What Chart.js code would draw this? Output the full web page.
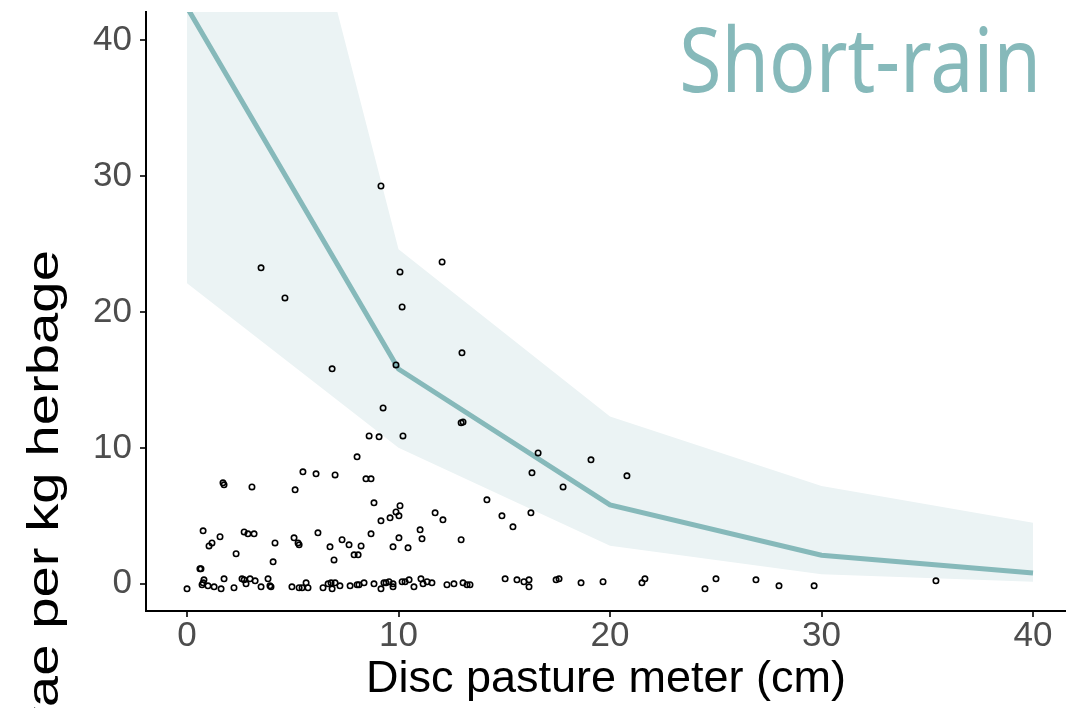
<!DOCTYPE html>
<html>
<head>
<meta charset="utf-8">
<script src="https://cdn.jsdelivr.net/npm/chart.js@4/dist/chart.umd.min.js"></script>
<style>
  html, body { margin: 0; padding: 0; background: #fff; }
  #wrap { width: 1066px; height: 708px; position: relative; }
</style>
</head>
<body>
<div id="wrap"><canvas id="larvaeChart"></canvas></div>
<script>
// fitted curve + confidence band, at the grass heights of the model
const fitHeights = [0, 10, 20, 30, 40];
const fitMean = [42.4, 15.8, 5.8, 2.1, 0.8];
const fitUpper = [85, 24.6, 12.3, 7.2, 4.5];
const fitLower = [22.1, 10.0, 2.8, 0.7, 0.15];

// observed samples: disc height (cm) and larvae per kg
const obsHeight = [
  9.17, 3.50, 4.63, 12.06, 10.07, 10.17, 6.86, 9.88, 13.00, 9.27,
  12.96, 13.05, 10.21, 16.60, 19.10, 16.31, 17.78, 20.80, 14.18, 11.73,
  12.10, 14.89, 15.41, 16.26, 12.96, 11.02, 11.11, 8.61, 9.08, 8.04,
  5.48, 6.10, 7.00, 8.46, 8.70, 1.70, 1.75, 3.07, 5.11, 8.84,
  10.07, 9.88, 10.02, 9.17, 9.60, 0.76, 2.70, 2.88, 3.17, 6.19,
  8.70, 1.56, 5.06, 5.25, 5.30, 7.33, 7.66, 1.18, 1.04, 4.16,
  10.02, 6.76, 8.23, 9.74, 10.45, 2.32, 7.90, 8.09, 4.07, 6.95,
  0.61, 0.66, 0.00, 0.71, 0.80, 0.76, 0.99, 1.28, 1.61, 1.75,
  2.22, 2.60, 2.70, 2.79, 2.98, 3.22, 3.50, 3.83, 3.92, 3.97,
  4.96, 5.30, 5.44, 5.63, 5.72, 6.43, 6.67, 6.81, 6.86, 7.00,
  7.23, 7.71, 8.04, 8.13, 8.37, 8.84, 9.17, 9.31, 9.41, 9.55,
  9.74, 9.74, 10.17, 10.31, 10.50, 10.73, 11.06, 11.16, 11.35, 11.58,
  12.29, 12.62, 13.05, 13.24, 13.38, 15.04, 15.60, 15.93, 16.17, 16.17,
  17.45, 17.59, 18.63, 19.67, 21.51, 21.65, 24.49, 25.01, 26.90, 27.99,
  29.65, 35.41
];
const obsLarvae = [
  29.26, 23.24, 21.03, 23.68, 22.94, 20.37, 15.81, 16.10, 16.99, 12.94,
  11.84, 11.91, 10.88, 9.63, 9.12, 8.16, 7.13, 7.94, 6.18, 5.22,
  4.71, 5.00, 4.19, 5.22, 3.24, 3.97, 3.31, 10.88, 10.81, 9.34,
  8.24, 8.09, 8.01, 7.72, 7.72, 7.43, 7.28, 7.13, 6.91, 5.96,
  5.74, 5.29, 5.00, 4.63, 4.85, 3.90, 3.82, 3.68, 3.68, 3.75,
  3.68, 3.46, 3.38, 3.01, 2.87, 3.24, 2.87, 3.01, 2.79, 3.01,
  3.38, 2.72, 2.79, 2.72, 2.65, 2.21, 2.13, 2.13, 1.62, 1.76,
  1.10, 1.10, -0.37, -0.07, 0.29, 0.07, -0.15, -0.22, -0.37, 0.37,
  -0.29, 0.37, 0.29, 0.00, 0.37, 0.22, -0.22, 0.37, -0.15, -0.22,
  -0.22, -0.29, -0.29, 0.07, -0.29, -0.29, 0.00, 0.07, -0.37, 0.07,
  -0.15, -0.15, -0.07, -0.07, 0.07, 0.00, -0.37, 0.07, 0.07, 0.15,
  0.00, -0.22, 0.15, 0.15, 0.29, -0.22, 0.37, 0.00, 0.15, 0.07,
  -0.07, 0.00, 0.07, -0.07, -0.07, 0.37, 0.29, 0.15, 0.29, -0.22,
  0.29, 0.37, 0.07, 0.15, 0.07, 0.37, -0.37, 0.37, 0.29, -0.15,
  -0.15, 0.22
];

const xTicks = [0, 10, 20, 30, 40];
const yTicks = [0, 10, 20, 30, 40];

const teal = '#86b9ba';
const bandFill = '#ebf3f4';

const toXY = (xs, ys) => xs.map((x, i) => ({ x: x, y: ys[i] }));

// season name in the top right corner, slightly tall glyphs
const seasonLabel = {
  id: 'seasonLabel',
  afterDraw(chart) {
    const ctx = chart.ctx;
    ctx.save();
    ctx.fillStyle = teal;
    ctx.font = '400 77px "Noto Sans"';
    ctx.textAlign = 'right';
    ctx.textBaseline = 'alphabetic';
    ctx.translate(1041, 92);
    ctx.scale(1, 1.16);
    ctx.fillText('Short-rain', 0, 0);
    ctx.restore();
  }
};

// rotated y-axis title, runs off the bottom edge
const yTitle = {
  id: 'yTitle',
  afterDraw(chart) {
    const ctx = chart.ctx;
    ctx.save();
    ctx.fillStyle = '#000';
    ctx.font = '44px "Liberation Sans", Arial, sans-serif';
    ctx.textAlign = 'right';
    ctx.textBaseline = 'alphabetic';
    ctx.translate(58, 250);
    ctx.rotate(-Math.PI / 2);
    ctx.scale(1.28, 1);
    ctx.fillText('Larvae per kg herbage', 0, 0);
    ctx.restore();
  }
};

new Chart(document.getElementById('larvaeChart'), {
  type: 'scatter',
  data: {
    datasets: [
      {
        label: 'observed',
        data: toXY(obsHeight, obsLarvae),
        pointRadius: 2.7,
        pointBorderWidth: 1.6,
        pointBorderColor: '#000',
        pointBackgroundColor: 'rgba(0,0,0,0)',
        order: 0
      },
      {
        label: 'fit',
        type: 'line',
        data: toXY(fitHeights, fitMean),
        borderColor: teal,
        borderWidth: 5,
        pointRadius: 0,
        tension: 0,
        fill: false,
        order: 1
      },
      {
        label: 'upper',
        type: 'line',
        data: toXY(fitHeights, fitUpper),
        borderWidth: 0,
        borderColor: 'rgba(0,0,0,0)',
        backgroundColor: bandFill,
        pointRadius: 0,
        tension: 0,
        fill: '+1',
        order: 2
      },
      {
        label: 'lower',
        type: 'line',
        data: toXY(fitHeights, fitLower),
        borderWidth: 0,
        borderColor: 'rgba(0,0,0,0)',
        pointRadius: 0,
        tension: 0,
        fill: false,
        order: 3
      }
    ]
  },
  options: {
    responsive: true,
    maintainAspectRatio: false,
    animation: false,
    layout: { autoPadding: false, padding: { top: 12, right: 0, left: 0, bottom: 0 } },
    plugins: {
      legend: { display: false },
      tooltip: { enabled: false }
    },
    scales: {
      x: {
        type: 'linear',
        min: -1.94,
        max: 41.56,
        afterBuildTicks: s => { s.ticks = xTicks.map(v => ({ value: v })); },
        afterFit: s => { s.height = 97; s.paddingLeft = 0; s.paddingRight = 0; },
        border: { display: true, color: '#000', width: 2 },
        grid: { drawOnChartArea: false, tickLength: 6, color: '#333', lineWidth: 2 },
        ticks: {
          color: '#4d4d4d',
          font: { family: '"Liberation Sans", Arial, sans-serif', size: 35 },
          padding: -2,
          maxRotation: 0
        },
        title: {
          display: true,
          text: 'Disc pasture meter (cm)',
          color: '#000',
          font: { family: '"Liberation Sans", Arial, sans-serif', size: 45 },
          padding: { top: 0, bottom: 1 }
        }
      },
      y: {
        type: 'linear',
        min: -2.0,
        max: 42.06,
        afterBuildTicks: s => { s.ticks = yTicks.map(v => ({ value: v })); },
        afterFit: s => { s.width = 146; s.paddingTop = 0; s.paddingBottom = 0; },
        border: { display: true, color: '#000', width: 2 },
        grid: { drawOnChartArea: false, tickLength: 6, color: '#333', lineWidth: 2 },
        ticks: {
          color: '#4d4d4d',
          font: { family: '"Liberation Sans", Arial, sans-serif', size: 35 },
          padding: 8
        }
      }
    }
  },
  plugins: [seasonLabel, yTitle]
});
</script>
</body>
</html>
